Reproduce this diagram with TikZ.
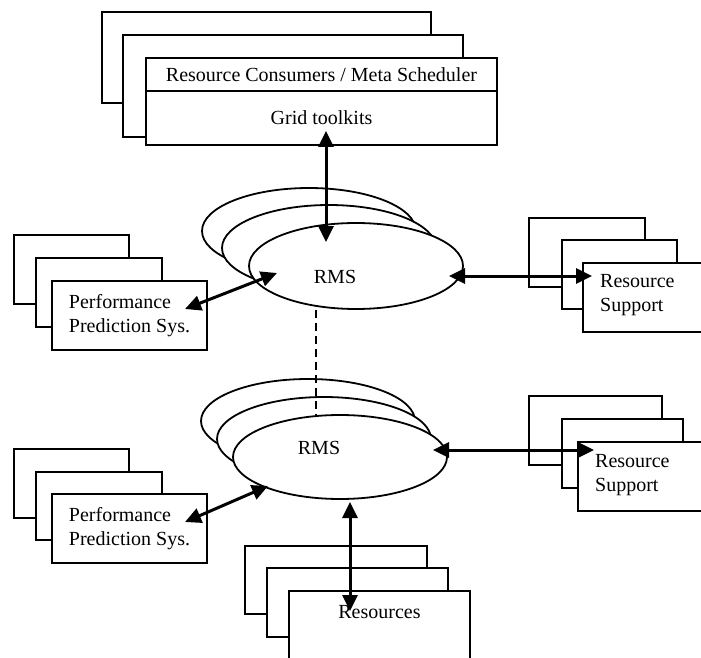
\documentclass[tikz,border=0pt]{standalone}
\usepackage{fontspec}
\setmainfont{Liberation Serif}
\usepackage{tikz}
\usetikzlibrary{shapes.geometric,arrows.meta,positioning}
\tikzstyle{box}=[rectangle, draw, fill=white, line width=1.8pt, inner sep=0pt, align=left]
\tikzstyle{rmsell}=[ellipse, draw, fill=white, line width=1.8pt, inner sep=0pt, minimum width=214pt, minimum height=86pt]
\tikzstyle{txt}=[inner sep=0pt, align=left]
\tikzstyle{dbl}=[{Triangle[length=16pt,width=15pt]}-{Triangle[length=16pt,width=15pt]}, line width=3pt]

\begin{document}
\begin{tikzpicture}[x=1pt, y=-1pt, every node/.style={font=\fontsize{20}{24}\selectfont}]
\useasboundingbox (0,0) rectangle (701,658);

% consumers stack
\node[box, minimum width=329pt, minimum height=91pt] (cons3) at (266.5,57.5) {};
\node[box, minimum width=340pt, minimum height=102pt] (cons2) at (293,86) {};
\node[box, minimum width=351pt, minimum height=33pt] (rcms) at (321.5,74.5) {Resource Consumers / Meta Scheduler};
\node[box, minimum width=351pt, minimum height=54pt] (grid) at (321.5,118) {Grid toolkits};

% RMS, upper
\node[rmsell] (rms1c) at (309,231) {};
\node[rmsell] (rms1b) at (329,248) {};
\node[rmsell] (rms1) at (356,266) {};
\node[txt] (rms1t) at (335,277) {RMS};

% RMS, lower
\node[rmsell, minimum height=84pt] (rms2c) at (308,421) {};
\node[rmsell, minimum height=84pt] (rms2b) at (324,439) {};
\node[rmsell, minimum height=84pt] (rms2) at (340,457) {};
\node[txt] (rms2t) at (319,448) {RMS};

% performance prediction
\node[box, minimum width=115pt, minimum height=69pt] (pps1c) at (71.5,269.5) {};
\node[box, minimum width=126pt, minimum height=69pt] (pps1b) at (99,292.5) {};
\node[box, minimum width=155pt, minimum height=69pt] (pps1) at (129.5,315.5) {Performance\\Prediction Sys.};
\node[box, minimum width=115pt, minimum height=69pt] (pps2c) at (71.5,483.5) {};
\node[box, minimum width=126pt, minimum height=68pt] (pps2b) at (99,506) {};
\node[box, minimum width=155pt, minimum height=69pt] (pps2) at (129.5,528.5) {Performance\\Prediction Sys.};

% resource support
\node[box, minimum width=116pt, minimum height=69pt] (rs1c) at (587,252.5) {};
\node[box, minimum width=115pt, minimum height=69pt] (rs1b) at (619.5,274.5) {};
\node[box, minimum width=137pt, minimum height=69pt] (rs1) at (651.5,297.5) {};
\node[txt, anchor=west] (rs1t) at (600,295) {Resource\\Support};
\node[box, minimum width=133pt, minimum height=69pt] (rs2c) at (595.5,430.5) {};
\node[box, minimum width=121pt, minimum height=69pt] (rs2b) at (622.5,453.5) {};
\node[box, minimum width=142pt, minimum height=69pt] (rs2) at (649,476.5) {};
\node[txt, anchor=west] (rs2t) at (595,475) {Resource\\Support};

% resources
\node[box, minimum width=182pt, minimum height=68pt] (res3) at (336,580) {};
\node[box, minimum width=181pt, minimum height=69pt] (res2) at (357.5,602.5) {};
\node[box, minimum width=181pt, minimum height=89pt] (res) at (379.5,635.5) {};
\node[txt] (rest) at (379.5,612) {Resources};

\draw[line width=1.8pt, dash pattern=on 8pt off 5pt] ([xshift=-40pt]rms1.south) -- ([xshift=-24pt]rms2.north);

\draw[dbl] ([xshift=4.5pt,yshift=15pt]grid.south) -- ([xshift=-30pt,yshift=24pt]rms1.center);
\draw[dbl] ([xshift=55.5pt,yshift=6.5pt]pps1.center) -- ([xshift=-79pt,yshift=-7pt]rms1.center);
\draw[dbl] ([xshift=93pt,yshift=-10pt]rms1.center) -- ([xshift=10pt,yshift=21.5pt]rs1.west);
\draw[dbl] ([xshift=55.5pt,yshift=6.5pt]pps2.center) -- ([xshift=-72pt,yshift=-29pt]rms2.center);
\draw[dbl] ([xshift=93pt,yshift=7pt]rms2.center) -- ([xshift=17pt,yshift=26.5pt]rs2.west);
\draw[dbl] ([xshift=10pt,yshift=-45pt]rms2.center) -- ([xshift=-29.5pt,yshift=-21pt]res.north);

\end{tikzpicture}
\end{document}
